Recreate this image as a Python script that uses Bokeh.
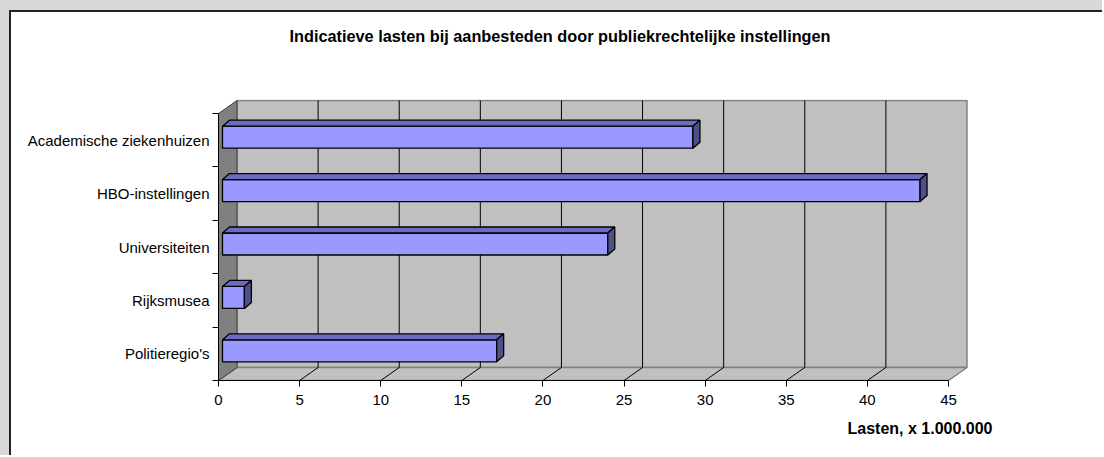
from bokeh.plotting import figure
from bokeh.models import Range1d, FixedTicker, Title, Div
from bokeh.layouts import column, row
from bokeh.embed import file_html
from bokeh.resources import INLINE

# ---- data (bottom to top) ----
categories = ["Politieregio's", "Rijksmusea", "Universiteiten",
              "HBO-instellingen", "Academische ziekenhuizen"]
values = [16.9, 1.35, 23.75, 43.0, 29.0]
x_ticks = [0, 5, 10, 15, 20, 25, 30, 35, 40, 45]
title_text = "Indicatieve lasten bij aanbesteden door publiekrechtelijke instellingen"
x_title = "Lasten, x 1.000.000"

# ---- geometry / style ----
X_MAX = x_ticks[-1]
N = len(categories)
PX_X = 16.222          # px per value unit
PX_Y = 53.4            # px per category band
FRAME_W, FRAME_H = 750, 281
DX, DY = 18.5 / PX_X, 13 / PX_Y          # wall depth
FX, FY = 4 / PX_X, 3 / PX_Y              # bar front face depth
TX, TY = 7 / PX_X, 6 / PX_Y              # bar depth
BH = 22 / PX_Y                           # bar thickness
FONT = "Liberation Sans"
PAGE_GRAY = "#d8d8d8"
EDGE = "#222222"

p = figure(width=1091, height=443,
           x_range=Range1d(0, FRAME_W / PX_X), y_range=Range1d(0, FRAME_H / PX_Y),
           output_backend="svg", toolbar_location=None,
           min_border_left=207, min_border_right=134,
           min_border_top=87, min_border_bottom=75, margin=0)
p.title_location = None
p.background_fill_color = "white"
p.border_fill_color = "white"
p.outline_line_color = None
p.xgrid.visible = False
p.ygrid.visible = False

# spacer between frame and title, then the chart title
p.add_layout(Title(text=" ", text_font_size="1px", standoff=52), "above")
p.add_layout(Title(text=title_text, align="left", offset=71, text_font=FONT,
                   text_font_size="16.3px", text_font_style="bold",
                   text_color="black", standoff=0), "above")

# x axis title
p.add_layout(Title(text=x_title, align="right", offset=-24, text_font=FONT,
                   text_font_size="16px", text_font_style="bold",
                   text_color="black", standoff=21), "below")

# walls
p.quad(left=DX, right=X_MAX + DX, bottom=DY, top=N + DY,
       fill_color="#c0c0c0", line_color="#808080", line_width=1.5)
p.patch([0, X_MAX, X_MAX + DX, DX], [0, 0, DY, DY],
        fill_color="#c0c0c0", line_color="#808080", line_width=1.5)
p.patch([0, DX, DX, 0], [0, DY, N + DY, N],
        fill_color="#808080", line_color="#404040", line_width=1)

grid_vals = [t for t in x_ticks if 0 < t < X_MAX]
p.segment(x0=[t + DX for t in grid_vals], y0=[DY] * len(grid_vals),
          x1=[t + DX for t in grid_vals], y1=[N + DY] * len(grid_vals),
          line_color="black", line_width=1)
p.segment(x0=grid_vals, y0=[0] * len(grid_vals),
          x1=[t + DX for t in grid_vals], y1=[DY] * len(grid_vals),
          line_color="black", line_width=1)

# bars
lefts, rights, bottoms, tops = [], [], [], []
top_xs, top_ys, side_xs, side_ys = [], [], [], []
for i, v in enumerate(values):
    c = i + 0.5 + FY
    x0, x1 = FX, v + FX
    y0, y1 = c - BH / 2, c + BH / 2
    lefts.append(x0); rights.append(x1); bottoms.append(y0); tops.append(y1)
    top_xs.append([x0, x1, x1 + TX, x0 + TX]); top_ys.append([y1, y1, y1 + TY, y1 + TY])
    side_xs.append([x1, x1 + TX, x1 + TX, x1]); side_ys.append([y0, y0 + TY, y1 + TY, y1])

p.quad(left=lefts, right=rights, bottom=bottoms, top=tops,
       fill_color="#9999ff", line_color="black", line_width=1.3)
p.patches(top_xs, top_ys, fill_color="#6b6bc4", line_color="black", line_width=1.3)
p.patches(side_xs, side_ys, fill_color="#4f4f8c", line_color="black", line_width=1.3)

# axes
xa = p.xaxis[0]
xa.ticker = FixedTicker(ticks=x_ticks)
xa.bounds = (0, X_MAX)
xa.axis_line_color = "black"
xa.major_tick_line_color = "black"
xa.major_tick_out = 6
xa.major_tick_in = 0
xa.minor_tick_out = 0
xa.minor_tick_in = 0
xa.major_label_text_font = FONT
xa.major_label_text_font_size = "15px"
xa.major_label_text_color = "black"
xa.major_label_standoff = 8

ya = p.yaxis[0]
ya.ticker = FixedTicker(ticks=[i + 0.5 for i in range(N)], minor_ticks=list(range(N + 1)))
ya.bounds = (0, N)
ya.axis_line_color = "black"
ya.major_tick_out = 0
ya.major_tick_in = 0
ya.minor_tick_out = 6
ya.minor_tick_in = 0
ya.minor_tick_line_color = "black"
ya.major_label_overrides = {i + 0.5: c for i, c in enumerate(categories)}
ya.major_label_text_font = FONT
ya.major_label_text_font_size = "15px"
ya.major_label_text_color = "black"
ya.major_label_standoff = 3

# page frame: grey band and dark edge at top/left of the white chart area
top_band = Div(width=1102, height=10, margin=0, styles={"background-color": PAGE_GRAY})
left_band = Div(width=9, height=445, margin=0, styles={"background-color": PAGE_GRAY})
left_line = Div(width=2, height=445, margin=0, styles={"background-color": EDGE})
top_line = Div(width=1091, height=2, margin=0, styles={"background-color": EDGE})
layout = column(top_band,
                row(left_band, left_line,
                    column(top_line, p, spacing=0, margin=0),
                    spacing=0, margin=0),
                spacing=0, margin=0)

open("out.html", "w").write(file_html(layout, INLINE))
